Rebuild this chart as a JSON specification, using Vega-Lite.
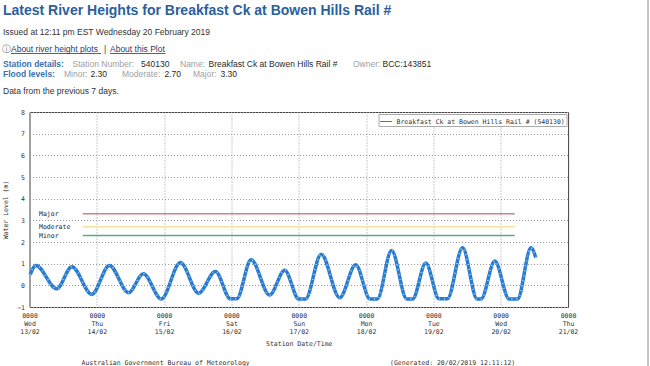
{
  "$schema": "https://vega.github.io/schema/vega-lite/v6.json",
  "width": 538.5,
  "height": 195,
  "autosize": {"type": "none"},
  "padding": {"left": 29.5, "top": 112, "right": 82, "bottom": 59},
  "background": "white",
  "config": {"view": {"stroke": "#444", "strokeWidth": 1}},
  "datasets": {
    "heights": [
      {"t": "2019-02-13T00:11:00Z", "h": 0.48},
      {"t": "2019-02-13T02:18:00Z", "h": 0.92},
      {"t": "2019-02-13T09:42:00Z", "h": -0.16},
      {"t": "2019-02-13T15:06:00Z", "h": 0.86},
      {"t": "2019-02-13T22:12:00Z", "h": -0.42},
      {"t": "2019-02-14T04:30:00Z", "h": 0.92},
      {"t": "2019-02-14T11:18:00Z", "h": -0.34},
      {"t": "2019-02-14T16:36:00Z", "h": 0.53},
      {"t": "2019-02-14T23:00:00Z", "h": -0.63},
      {"t": "2019-02-15T05:48:00Z", "h": 1.05},
      {"t": "2019-02-15T12:18:00Z", "h": -0.36},
      {"t": "2019-02-15T18:18:00Z", "h": 0.64},
      {"t": "2019-02-15T23:36:00Z", "h": -0.62},
      {"t": "2019-02-16T01:54:00Z", "h": -0.62},
      {"t": "2019-02-16T07:00:00Z", "h": 1.18},
      {"t": "2019-02-16T13:36:00Z", "h": -0.45},
      {"t": "2019-02-16T19:00:00Z", "h": 0.7},
      {"t": "2019-02-17T00:00:00Z", "h": -0.63},
      {"t": "2019-02-17T02:24:00Z", "h": -0.63},
      {"t": "2019-02-17T08:00:00Z", "h": 1.44},
      {"t": "2019-02-17T14:36:00Z", "h": -0.57},
      {"t": "2019-02-17T20:18:00Z", "h": 0.95},
      {"t": "2019-02-18T01:24:00Z", "h": -0.63},
      {"t": "2019-02-18T04:00:00Z", "h": -0.63},
      {"t": "2019-02-18T09:06:00Z", "h": 1.61},
      {"t": "2019-02-18T14:30:00Z", "h": -0.63},
      {"t": "2019-02-18T16:36:00Z", "h": -0.63},
      {"t": "2019-02-18T21:18:00Z", "h": 1.03},
      {"t": "2019-02-19T02:00:00Z", "h": -0.62},
      {"t": "2019-02-19T05:00:00Z", "h": -0.62},
      {"t": "2019-02-19T10:24:00Z", "h": 1.73},
      {"t": "2019-02-19T15:36:00Z", "h": -0.63},
      {"t": "2019-02-19T17:00:00Z", "h": -0.63},
      {"t": "2019-02-19T21:54:00Z", "h": 1.12},
      {"t": "2019-02-20T03:00:00Z", "h": -0.63},
      {"t": "2019-02-20T06:00:00Z", "h": -0.63},
      {"t": "2019-02-20T10:48:00Z", "h": 1.73},
      {"t": "2019-02-20T12:30:00Z", "h": 1.28}
    ],
    "flood": [
      {"level": "Major", "value": 3.3, "start": "2019-02-13T19:00:00Z", "end": "2019-02-20T05:00:00Z", "labelAt": "2019-02-13T03:24:00Z"},
      {"level": "Moderate", "value": 2.7, "start": "2019-02-13T19:00:00Z", "end": "2019-02-20T05:00:00Z", "labelAt": "2019-02-13T03:24:00Z"},
      {"level": "Minor", "value": 2.3, "start": "2019-02-13T19:00:00Z", "end": "2019-02-20T05:00:00Z", "labelAt": "2019-02-13T03:24:00Z"}
    ],
    "header": [
      {"text": "Latest River Heights for Breakfast Ck at Bowen Hills Rail #", "kind": "heading", "x": 3, "y": 15},
      {"text": "Issued at 12:11 pm EST Wednesday 20 February 2019", "kind": "body", "x": 3, "y": 34.5},
      {"text": "ⓘ", "kind": "icon", "x": 1.5, "y": 51.5},
      {"text": "About river height plots", "kind": "link", "x": 11, "y": 51.5},
      {"text": "|", "kind": "body", "x": 104, "y": 51.5},
      {"text": "About this Plot", "kind": "link", "x": 110, "y": 51.5},
      {"text": "Station details:", "kind": "section", "x": 3, "y": 66.5},
      {"text": "Station Number:", "kind": "label", "x": 72.5, "y": 66.5},
      {"text": "540130", "kind": "value", "x": 141, "y": 66.5},
      {"text": "Name:", "kind": "label", "x": 180, "y": 66.5},
      {"text": "Breakfast Ck at Bowen Hills Rail #", "kind": "value", "x": 208.5, "y": 66.5},
      {"text": "Owner:", "kind": "label", "x": 353, "y": 66.5},
      {"text": "BCC:143851", "kind": "value", "x": 382.5, "y": 66.5},
      {"text": "Flood levels:", "kind": "section", "x": 3, "y": 77},
      {"text": "Minor:", "kind": "label", "x": 64, "y": 77},
      {"text": "2.30", "kind": "value", "x": 90.5, "y": 77},
      {"text": "Moderate:", "kind": "label", "x": 122, "y": 77},
      {"text": "2.70", "kind": "value", "x": 164.5, "y": 77},
      {"text": "Major:", "kind": "label", "x": 193, "y": 77},
      {"text": "3.30", "kind": "value", "x": 220.5, "y": 77},
      {"text": "Data from the previous 7 days.", "kind": "body", "x": 3, "y": 94},
      {"text": "Australian Government Bureau of Meteorology", "kind": "mono", "x": 81.5, "y": 364.5},
      {"text": "(Generated: 20/02/2019 12:11:12)", "kind": "mono", "x": 390, "y": 364.5}
    ],
    "underlines": [
      {"x": 11, "x2": 101, "y": 53.5},
      {"x": 110, "x2": 165.5, "y": 53.5}
    ],
    "edge": [
      {"x": 648, "y": 0, "y2": 366}
    ]
  },
  "layer": [
    {
      "layer": [
        {
          "data": {"name": "flood"},
          "mark": {"type": "rule", "strokeWidth": 1.5},
          "encoding": {
            "x": {
              "field": "start", "type": "temporal",
              "scale": {"type": "utc", "domain": ["2019-02-13T00:00:00Z", "2019-02-21T00:00:00Z"], "nice": false},
              "axis": {
                "title": "Station Date/Time",
                "tickCount": 8,
                "labelExpr": "[utcFormat(datum.value, '%H%M'), utcFormat(datum.value, '%a'), utcFormat(datum.value, '%d/%m')]",
                "labelFlush": false, "labelOverlap": false, "labelBound": false,
                "labelFont": "DejaVu Sans Mono", "labelFontSize": 6.5, "labelLineHeight": 8.3, "labelColor": "#333", "labelPadding": 5,
                "domain": false,
                "ticks": false,
                "grid": true, "gridDash": [1, 2], "gridColor": "#999",
                "titleFont": "DejaVu Sans Mono", "titleFontSize": 6.5, "titleFontWeight": "normal", "titleColor": "#333", "titlePadding": 5
              }
            },
            "x2": {"field": "end"},
            "y": {
              "field": "value", "type": "quantitative",
              "scale": {"domain": [-1, 8], "nice": false, "zero": false},
              "axis": {
                "title": "Water Level (m)",
                "tickCount": 9,
                "labelFont": "DejaVu Sans Mono", "labelFontSize": 6.5, "labelColor": "#333", "labelPadding": 5,
                "domain": false,
                "ticks": false,
                "grid": true, "gridDash": [1, 2], "gridColor": "#999",
                "titleFont": "DejaVu Sans Mono", "titleFontSize": 6.5, "titleFontWeight": "normal", "titleColor": "#333", "titlePadding": 8
              }
            },
            "stroke": {"field": "level", "type": "nominal", "scale": {"domain": ["Major", "Moderate", "Minor"], "range": ["#c98686", "#f2e2a2", "#5aab84"]}, "legend": null}
          }
        },
        {
          "data": {"name": "flood"},
          "mark": {"type": "text", "align": "left", "baseline": "middle", "font": "DejaVu Sans Mono", "fontSize": 6.5, "color": "#222"},
          "encoding": {
            "x": {"field": "labelAt", "type": "temporal"},
            "y": {"field": "value", "type": "quantitative"},
            "text": {"field": "level"}
          }
        },
        {
          "data": {"name": "heights"},
          "mark": {"type": "line", "interpolate": "monotone", "strokeWidth": 3.5},
          "encoding": {
            "x": {"field": "t", "type": "temporal"},
            "y": {"field": "h", "type": "quantitative"},
            "color": {
              "datum": "Breakfast Ck at Bowen Hills Rail # (540130)",
              "scale": {"range": ["#2a7ad0"]},
              "legend": {
                "orient": "top-right", "offset": 2, "title": null,
                "labelFont": "DejaVu Sans Mono", "labelFontSize": 6.5, "labelColor": "#333", "labelLimit": 400,
                "symbolType": "stroke", "symbolStrokeWidth": 1, "symbolSize": 140,
                "strokeColor": "#aaa", "padding": 1, "fillColor": "white"
              }
            }
          }
        },
        {
          "data": {"name": "heights"},
          "mark": {"type": "line", "interpolate": "monotone", "strokeWidth": 2, "color": "#8cc6f2", "strokeDash": [1, 4]},
          "encoding": {
            "x": {"field": "t", "type": "temporal"},
            "y": {"field": "h", "type": "quantitative"}
          }
        }
      ]
    },
    {
      "layer": [
        {
          "data": {"name": "edge"},
          "mark": {"type": "rule", "color": "#c4c4c4", "strokeWidth": 2},
          "encoding": {
            "x": {"field": "x", "type": "quantitative", "scale": {"domain": [0, 650], "range": [-29.5, 620.5], "nice": false, "zero": false}, "axis": null},
            "y": {"field": "y", "type": "quantitative", "scale": {"domain": [0, 366], "range": [-112, 254], "nice": false, "zero": false}, "axis": null},
            "y2": {"field": "y2"}
          }
        },
        {
          "data": {"name": "header"},
          "transform": [{"filter": "datum.kind == 'heading'"}],
          "mark": {"type": "text", "align": "left", "baseline": "alphabetic", "font": "Liberation Sans", "fontSize": 14, "fontWeight": "bold", "color": "#2b5f9e"},
          "encoding": {
            "x": {"field": "x", "type": "quantitative"},
            "y": {"field": "y", "type": "quantitative"},
            "text": {"field": "text"}
          }
        },
        {
          "data": {"name": "header"},
          "transform": [{"filter": "datum.kind == 'section'"}],
          "mark": {"type": "text", "align": "left", "baseline": "alphabetic", "font": "Liberation Sans", "fontSize": 8.5, "fontWeight": "bold", "color": "#3a72b0"},
          "encoding": {
            "x": {"field": "x", "type": "quantitative"},
            "y": {"field": "y", "type": "quantitative"},
            "text": {"field": "text"}
          }
        },
        {
          "data": {"name": "header"},
          "transform": [{"filter": "datum.kind != 'section' && datum.kind != 'heading' && datum.kind != 'mono'"}],
          "mark": {"type": "text", "align": "left", "baseline": "alphabetic", "font": "Liberation Sans", "fontSize": 8.5},
          "encoding": {
            "x": {"field": "x", "type": "quantitative"},
            "y": {"field": "y", "type": "quantitative"},
            "text": {"field": "text"},
            "color": {"field": "kind", "type": "nominal", "scale": {"domain": ["body", "label", "value", "link", "icon"], "range": ["#333333", "#a0a0a0", "#2a2a2a", "#1f3c6e", "#777777"]}, "legend": null}
          }
        },
        {
          "data": {"name": "header"},
          "transform": [{"filter": "datum.kind == 'mono'"}],
          "mark": {"type": "text", "align": "left", "baseline": "alphabetic", "font": "DejaVu Sans Mono", "fontSize": 6.5, "color": "#333"},
          "encoding": {
            "x": {"field": "x", "type": "quantitative"},
            "y": {"field": "y", "type": "quantitative"},
            "text": {"field": "text"}
          }
        },
        {
          "data": {"name": "underlines"},
          "mark": {"type": "rule", "color": "#1f3c6e", "strokeWidth": 0.8},
          "encoding": {
            "x": {"field": "x", "type": "quantitative"},
            "x2": {"field": "x2"},
            "y": {"field": "y", "type": "quantitative"}
          }
        }
      ]
    }
  ],
  "resolve": {"scale": {"x": "independent", "y": "independent", "color": "independent"}}
}
